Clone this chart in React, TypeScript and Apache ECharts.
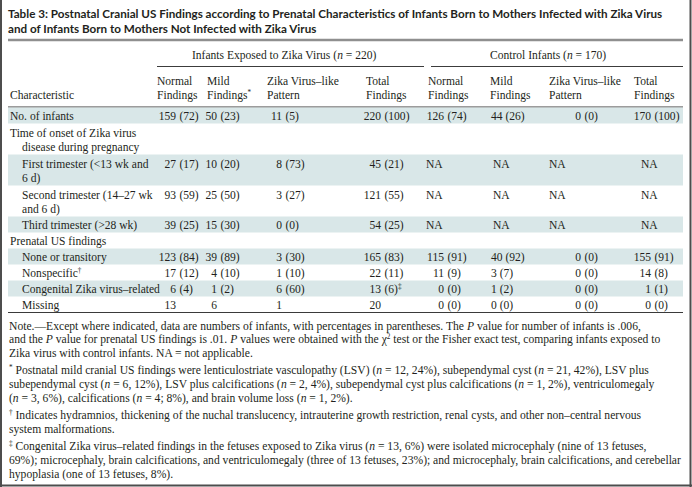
import React, { useEffect, useRef } from 'react';
import * as echarts from 'echarts';

// ---------- text content ----------
const TITLE_LINES = [
  'Table 3: Postnatal Cranial US Findings according to Prenatal Characteristics of Infants Born to Mothers Infected with Zika Virus',
  'and of Infants Born to Mothers Not Infected with Zika Virus',
];
const GROUP_HEADERS = ['Infants Exposed to Zika Virus ({i|n} = 220)', 'Control Infants ({i|n} = 170)'];
const CHAR_HEADER = 'Characteristic';
const COLUMN_HEADERS = [
  ['Normal', 'Findings'],
  ['Mild', 'Findings{sup|*}'],
  ['Zika Virus–like', 'Pattern'],
  ['Total', 'Findings'],
  ['Normal', 'Findings'],
  ['Mild', 'Findings'],
  ['Zika Virus–like', 'Pattern'],
  ['Total', 'Findings'],
];
const ROW_LABELS: string[][] = [
  ['No. of infants'],
  ['Time of onset of Zika virus', 'disease during pregnancy'],
  ['First trimester (<13 wk and', '6 d)'],
  ['Second trimester (14–27 wk', 'and 6 d)'],
  ['Third trimester (>28 wk)'],
  ['Prenatal US findings'],
  ['None or transitory'],
  ['Nonspecific{sup|†}'],
  ['Congenital Zika virus–related'],
  ['Missing'],
];
const ROW_LEVEL = [0, 0, 1, 1, 1, 0, 1, 1, 1, 1];

// ---------- values: counts and percentages ----------
const exposedNormalN = [159, null, 27, 93, 39, null, 123, 17, 6, 13];
const exposedNormalPct = [72, null, 17, 59, 25, null, 84, 12, 4, null];
const exposedMildN = [50, null, 10, 25, 15, null, 39, 4, 1, 6];
const exposedMildPct = [23, null, 20, 50, 30, null, 89, 10, 2, null];
const exposedZikaN = [11, null, 8, 3, 0, null, 3, 1, 6, 1];
const exposedZikaPct = [5, null, 73, 27, 0, null, 30, 10, 60, null];
const exposedTotalN = [220, null, 45, 121, 54, null, 165, 22, 13, 20];
const exposedTotalPct = [100, null, 21, 55, 25, null, 83, 11, 6, null];
const exposedTotalMarks = ['', '', '', '', '', '', '', '', '‡', ''];
const controlNormalN: (number | string | null)[] = [126, null, 'NA', 'NA', 'NA', null, 115, 11, 0, 0];
const controlNormalPct = [74, null, null, null, null, null, 91, 9, 0, 0];
const controlMildN: (number | string | null)[] = [44, null, 'NA', 'NA', 'NA', null, 40, 3, 1, 0];
const controlMildPct = [26, null, null, null, null, null, 92, 7, 2, 0];
const controlZikaN: (number | string | null)[] = [0, null, 'NA', 'NA', 'NA', null, 0, 0, 0, 0];
const controlZikaPct = [0, null, null, null, null, null, 0, 0, 0, 0];
const controlTotalN: (number | string | null)[] = [170, null, 'NA', 'NA', 'NA', null, 155, 14, 1, 0];
const controlTotalPct = [100, null, null, null, null, null, 91, 8, 1, 0];

const NOTE_LINES = [
  ['Note.—Except where indicated, data are numbers of infants, with percentages in parentheses. The {i|P} value for number of infants is .006,',
    'and the {i|P} value for prenatal US findings is .01. {i|P} values were obtained with the χ{sup|2} test or the Fisher exact test, comparing infants exposed to',
    'Zika virus with control infants. NA = not applicable.'],
  ['{sup|*} Postnatal mild cranial US findings were lenticulostriate vasculopathy (LSV) ({i|n} = 12, 24%), subependymal cyst ({i|n} = 21, 42%), LSV plus',
    'subependymal cyst ({i|n} = 6, 12%), LSV plus calcifications ({i|n} = 2, 4%), subependymal cyst plus calcifications ({i|n} = 1, 2%), ventriculomegaly',
    '({i|n} = 3, 6%), calcifications ({i|n} = 4; 8%), and brain volume loss ({i|n} = 1, 2%).'],
  ['{sup|†} Indicates hydramnios, thickening of the nuchal translucency, intrauterine growth restriction, renal cysts, and other non–central nervous',
    'system malformations.'],
  ['{sup|‡} Congenital Zika virus–related findings in the fetuses exposed to Zika virus ({i|n} = 13, 6%) were isolated microcephaly (nine of 13 fetuses,',
    '69%); microcephaly, brain calcifications, and ventriculomegaly (three of 13 fetuses, 23%); and microcephaly, brain calcifications, and cerebellar',
    'hypoplasia (one of 13 fetuses, 8%).'],
];

// ---------- layout / style ----------
const SERIF = "'Liberation Serif', 'DejaVu Serif', serif";
const TITLE_FONT = "Lato, 'Open Sans', sans-serif";
const INK = '#231f20';
const SHADE = '#d9e7e8';
const TABLE_L = 8;
const TABLE_R = 683;

const COL_HEADER_X = [157, 207, 267, 366, 428, 490, 549, 634];
const COL_MODE = ['paren', 'paren', 'paren', 'paren', 'paren', 'left', 'paren', 'paren'];
const NUM_RIGHT = [176, 217, 282, 381, 444, 491, 581, 651];
const NA_X = [0, 0, 0, 0, 426, 493, 549, 641];

function plain(s: string) {
  return s.replace(/\{[a-z]+\|([^}]*)\}/g, '$1');
}

export default function App() {
  const ref = useRef<HTMLDivElement>(null);
  useEffect(() => {
    if (!ref.current) return;
    const chart = echarts.init(ref.current, undefined, { renderer: 'svg' });

    const ctx = document.createElement('canvas').getContext('2d')!;
    const fit = (text: string, family: string, weight: string, target: number) => {
      ctx.font = `${weight} 20px ${family}`;
      const w = ctx.measureText(text).width;
      return w > 0 ? (20 * target) / w : 11;
    };
    const bodySize = fit('Congenital Zika virus–related', SERIF, 'normal', 138);
    const noteSize = Math.min(
      fit(plain(NOTE_LINES[0][1]), SERIF, 'normal', 674),
      fit(plain(NOTE_LINES[3][1]), SERIF, 'normal', 672),
      fit(plain(NOTE_LINES[1][0]), SERIF, 'normal', 664),
    );
    const titleSize = fit(TITLE_LINES[0], TITLE_FONT, 'bold', 656);

    const richFor = (size: number) => ({
      i: { fontStyle: 'italic', fontSize: size, fontFamily: SERIF, fill: INK },
      sup: { fontSize: size * 0.62, fontFamily: SERIF, fill: INK, verticalAlign: 'top' },
    });

    const txt = (x: number, y: number, text: string, size: number, align = 'left', extra: any = {}) => ({
      type: 'text',
      x,
      y,
      silent: true,
      style: {
        text,
        fill: INK,
        fontSize: size,
        fontFamily: SERIF,
        textAlign: align,
        align,
        textVerticalAlign: 'middle',
        verticalAlign: 'middle',
        rich: richFor(size),
        ...extra,
      },
    });

    const els: any[] = [];

    // title
    TITLE_LINES.forEach((t, k) => {
      els.push(txt(8, 13 + k * 14.5, t, titleSize, 'left', { fontFamily: TITLE_FONT, fontWeight: 'bold', rich: undefined }));
    });

    // top rule
    els.push({ type: 'line', shape: { x1: TABLE_L, y1: 40, x2: TABLE_R, y2: 40 }, style: { stroke: '#8f8f8f', lineWidth: 2.5 } });

    // group headers and underlines
    els.push(txt(192, 55, GROUP_HEADERS[0], bodySize));
    els.push(txt(490, 55, GROUP_HEADERS[1], bodySize));
    els.push({ type: 'line', shape: { x1: 157, y1: 66.5, x2: 424, y2: 66.5 }, style: { stroke: '#3c3c3c', lineWidth: 1 } });
    els.push({ type: 'line', shape: { x1: 431, y1: 66.5, x2: TABLE_R, y2: 66.5 }, style: { stroke: '#3c3c3c', lineWidth: 1 } });

    // column headers
    els.push(txt(10, 95, CHAR_HEADER, bodySize));
    COLUMN_HEADERS.forEach((lines, c) => {
      lines.forEach((l, k) => els.push(txt(COL_HEADER_X[c], 80.5 + k * 14.5, l, bodySize)));
    });
    els.push({ type: 'line', shape: { x1: TABLE_L, y1: 107, x2: TABLE_R, y2: 107 }, style: { stroke: '#3a3a3a', lineWidth: 1.2 } });

    // rows
    const single = 16;
    const dbl = 31;
    const tops: number[] = [];
    let y = 107.5;
    ROW_LABELS.forEach((lines) => {
      tops.push(y);
      y += lines.length > 1 ? dbl : single;
    });
    const tableBottom = y;

    ROW_LABELS.forEach((lines, r) => {
      const h = lines.length > 1 ? dbl : single;
      if (r % 2 === 0) {
        els.push({ type: 'rect', shape: { x: TABLE_L, y: tops[r], width: TABLE_R - TABLE_L, height: h }, style: { fill: SHADE } });
      }
    });

    const cols = [
      [exposedNormalN, exposedNormalPct],
      [exposedMildN, exposedMildPct],
      [exposedZikaN, exposedZikaPct],
      [exposedTotalN, exposedTotalPct],
      [controlNormalN, controlNormalPct],
      [controlMildN, controlMildPct],
      [controlZikaN, controlZikaPct],
      [controlTotalN, controlTotalPct],
    ];

    ROW_LABELS.forEach((lines, r) => {
      const firstY = lines.length > 1 ? tops[r] + 9 : tops[r] + 8.5;
      lines.forEach((l, k) => {
        const level = k === 0 ? ROW_LEVEL[r] : 1;
        els.push(txt(10 + level * 12, firstY + k * 14.5, l, bodySize));
      });
      cols.forEach(([ns, ps], c) => {
        const n = (ns as any[])[r];
        const p = (ps as any[])[r];
        if (n === null || n === undefined) return;
        const mark = c === 3 && exposedTotalMarks[r] ? `{sup|${exposedTotalMarks[r]}}` : '';
        if (n === 'NA') {
          els.push(txt(NA_X[c], firstY, 'NA', bodySize));
          return;
        }
        if (COL_MODE[c] === 'left') {
          els.push(txt(NUM_RIGHT[c], firstY, p === null ? String(n) : `${n} (${p})${mark}`, bodySize));
          return;
        }
        els.push(txt(NUM_RIGHT[c], firstY, String(n), bodySize, 'right'));
        if (p !== null && p !== undefined) {
          els.push(txt(NUM_RIGHT[c] + bodySize * 0.3, firstY, `(${p})${mark}`, bodySize));
        }
      });
    });

    els.push({ type: 'line', shape: { x1: TABLE_L, y1: tableBottom, x2: TABLE_R, y2: tableBottom }, style: { stroke: '#3a3a3a', lineWidth: 1.2 } });

    // notes
    let ny = tableBottom + 13.5;
    const noteLH = 13.6;
    NOTE_LINES.forEach((para, pi) => {
      if (pi > 0) ny += 4;
      para.forEach((l) => {
        els.push(txt(9, ny, l, noteSize));
        ny += noteLH;
      });
    });

    // frame
    els.push({ type: 'line', shape: { x1: 1, y1: 0, x2: 1, y2: 487 }, style: { stroke: '#4d4d4d', lineWidth: 2 } });
    els.push({ type: 'line', shape: { x1: 690.5, y1: 0, x2: 690.5, y2: 487 }, style: { stroke: '#4d4d4d', lineWidth: 2 } });
    els.push({ type: 'line', shape: { x1: 0, y1: 485.5, x2: 692, y2: 485.5 }, style: { stroke: '#4d4d4d', lineWidth: 2 } });

    chart.setOption({
      animation: false,
      backgroundColor: '#ffffff',
      graphic: { elements: els },
    });
    return () => chart.dispose();
  }, []);

  return (
    <div
      ref={ref}
      style={{ position: 'absolute', left: 0, top: 0, width: 692, height: 487, background: '#fff' }}
    />
  );
}
